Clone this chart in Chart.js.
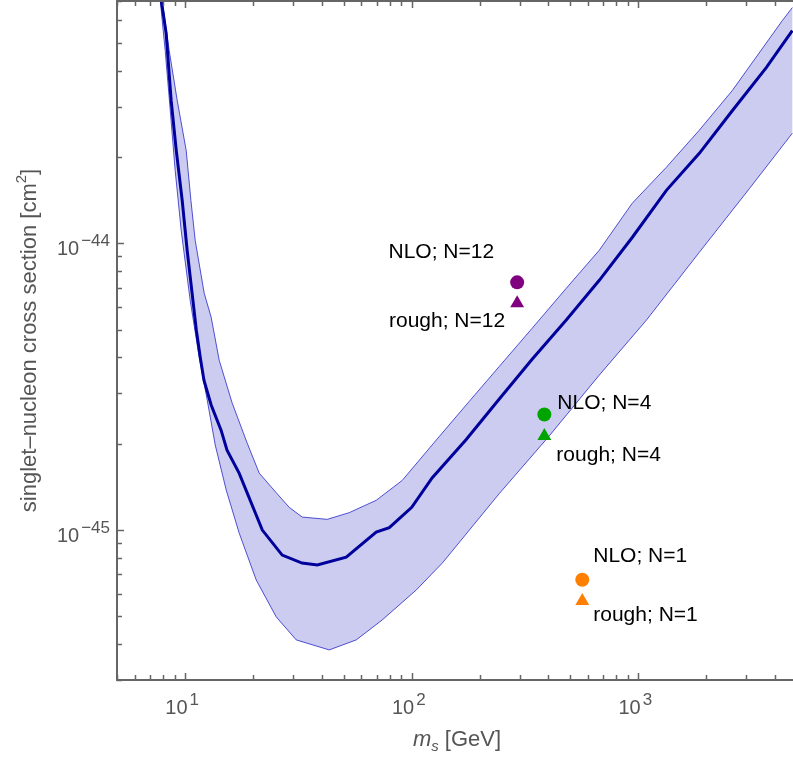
<!DOCTYPE html>
<html>
<head>
<meta charset="utf-8">
<script src="https://cdn.jsdelivr.net/npm/chart.js@4.4.0/dist/chart.umd.min.js"></script>
<style>
html, body { margin: 0; padding: 0; background: #fff; }
#wrap { width: 793px; height: 757px; }
</style>
</head>
<body>
<div id="wrap"><canvas id="myChart" width="793" height="757"></canvas></div>
<script>
// central curve (mass in GeV, cross section in cm^2)
var centerMass = [7.84, 8.24, 8.67, 9.13, 9.70, 10.2, 11.2, 11.65, 12.1, 13.02, 14.4, 15.3, 17.3, 21.9, 26.8, 32.8, 38.3, 51.4, 69.7, 79.6, 100, 123, 174, 243, 340, 481, 673, 942, 1331, 1860, 2600, 3673, 4786];
var centerSigma = [7.03e-44, 5.40e-44, 3.15e-44, 2.11e-44, 1.41e-44, 9.46e-45, 4.98e-45, 4.01e-45, 3.33e-45, 2.73e-45, 2.23e-45, 1.90e-45, 1.58e-45, 1.00e-45, 8.18e-46, 7.67e-46, 7.55e-46, 8.05e-46, 9.84e-46, 1.02e-45, 1.20e-45, 1.52e-45, 2.07e-45, 2.86e-45, 3.94e-45, 5.40e-45, 7.43e-45, 1.05e-44, 1.53e-44, 2.06e-44, 2.90e-44, 4.10e-44, 5.52e-44];

// upper edge of the band
var upperMass = [7.91, 8.50, 9.22, 10.1, 10.6, 11.07, 12.13, 13.02, 14.13, 16.13, 18.78, 21.22, 25.22, 28.79, 32.86, 42.37, 52.98, 69.7, 90.8, 128.3, 179.4, 243.4, 340.4, 481, 672.7, 940.8, 1329, 1859, 2600, 4323, 4786];
var upperSigma = [7.03e-44, 4.70e-44, 3.15e-44, 2.11e-44, 1.41e-44, 1.024e-44, 6.70e-45, 5.52e-45, 3.91e-45, 2.77e-45, 2.01e-45, 1.58e-45, 1.35e-45, 1.20e-45, 1.11e-45, 1.09e-45, 1.15e-45, 1.27e-45, 1.49e-45, 2.06e-45, 2.81e-45, 3.72e-45, 5.06e-45, 6.97e-45, 9.46e-45, 1.38e-44, 1.84e-44, 2.48e-44, 3.41e-44, 5.98e-44, 6.64e-44];

// lower edge of the band
var lowerMass = [7.76, 8.16, 8.59, 9.03, 9.60, 10.52, 11.53, 12.51, 13.57, 15.17, 17.31, 20.58, 25.22, 30.91, 43.23, 56.89, 74.1, 104.7, 136.4, 243.4, 404.6, 672.7, 1085, 1859, 3091, 4786];
var lowerSigma = [7.03e-44, 4.70e-44, 2.91e-44, 1.80e-44, 1.11e-44, 6.33e-45, 4.01e-45, 2.84e-45, 1.98e-45, 1.38e-45, 9.76e-46, 6.70e-46, 4.98e-46, 4.14e-46, 3.82e-46, 4.14e-46, 4.86e-46, 6.18e-46, 7.67e-46, 1.34e-45, 2.13e-45, 3.47e-45, 5.39e-45, 9.30e-45, 1.55e-44, 2.42e-44];

// benchmark points, N = 12, 4, 1
var pointMass = [292, 385, 566];
var nloSigma = [7.31e-45, 2.53e-45, 6.71e-46];
var roughSigma = [6.18e-45, 2.13e-45, 5.66e-46];
var nloLabels = ['NLO; N=12', 'NLO; N=4', 'NLO; N=1'];
var roughLabels = ['rough; N=12', 'rough; N=4', 'rough; N=1'];
var pointColors = ['#800080', '#00a400', '#ff8000'];

var xTickPowers = [1, 2, 3];
var yTickPowers = [-45, -44];

function toPoints(xs, ys) {
    var out = [];
    for (var i = 0; i < xs.length; i++) out.push({x: xs[i], y: ys[i]});
    return out;
}

var bandPoints = toPoints(upperMass, upperSigma).concat(toPoints(lowerMass, lowerSigma).reverse());

var FONT = '"Liberation Sans", Arial, Helvetica, sans-serif';
var GRAY = '#555555';

// label placement relative to the marker: [dx, dy, align]
var nloPlace = [[-23, -30, 'right'], [13, -11, 'left'], [11, -24, 'left']];
var roughPlace = [[-12, 18, 'right'], [12, 19, 'left'], [11, 14, 'left']];

function drawPow(ctx, exp, x, y, align) {
    var base = '10';
    var sup = String(exp).replace('-', '\u2212');
    ctx.font = '20px ' + FONT;
    var wb = ctx.measureText(base).width;
    ctx.font = '17px ' + FONT;
    var ws = ctx.measureText(sup).width;
    var total = wb + 2 + ws;
    var left = align === 'center' ? x - total / 2 : x - total;
    ctx.textAlign = 'left';
    ctx.textBaseline = 'alphabetic';
    ctx.font = '20px ' + FONT;
    ctx.fillText(base, left, y);
    ctx.font = '17px ' + FONT;
    ctx.fillText(sup, left + wb + 2, y - 9);
}

function drawRuns(ctx, runs, cx, y) {
    var total = 0, i;
    for (i = 0; i < runs.length; i++) {
        ctx.font = runs[i].font;
        runs[i].w = ctx.measureText(runs[i].text).width;
        total += runs[i].w;
    }
    var x = cx - total / 2;
    ctx.textAlign = 'left';
    ctx.textBaseline = 'alphabetic';
    for (i = 0; i < runs.length; i++) {
        ctx.font = runs[i].font;
        ctx.fillText(runs[i].text, x, y + (runs[i].dy || 0));
        x += runs[i].w;
    }
}

var framePlugin = {
    id: 'frame',
    afterDatasetsDraw: function(chart) {
        var ctx = chart.ctx;
        var a = chart.chartArea;
        var xs = chart.scales.x, ys = chart.scales.y;
        ctx.save();

        // marker labels
        ctx.fillStyle = '#000';
        ctx.font = '21px ' + FONT;
        ctx.textBaseline = 'middle';
        var nloMeta = chart.getDatasetMeta(4).data;
        var roughMeta = chart.getDatasetMeta(5).data;
        for (var i = 0; i < pointMass.length; i++) {
            ctx.textAlign = nloPlace[i][2];
            ctx.fillText(nloLabels[i], nloMeta[i].x + nloPlace[i][0], nloMeta[i].y + nloPlace[i][1]);
            ctx.textAlign = roughPlace[i][2];
            ctx.fillText(roughLabels[i], roughMeta[i].x + roughPlace[i][0], roughMeta[i].y + roughPlace[i][1]);
        }

        // frame
        ctx.strokeStyle = '#666666';
        ctx.lineWidth = 2;
        ctx.beginPath();
        ctx.moveTo(a.right + 2, a.top);
        ctx.lineTo(a.left, a.top);
        ctx.lineTo(a.left, a.bottom);
        ctx.lineTo(a.right + 2, a.bottom);
        ctx.stroke();

        // ticks
        ctx.lineWidth = 1.5;
        ctx.beginPath();
        for (var d = 0; d <= 3; d++) {
            for (var k = 1; k <= 9; k++) {
                var v = k * Math.pow(10, d);
                if (v < xs.min || v > xs.max) continue;
                var px = Math.round(xs.getPixelForValue(v)) + 0.5;
                var len = k === 1 ? 7 : 5;
                ctx.moveTo(px, a.bottom); ctx.lineTo(px, a.bottom - len);
                ctx.moveTo(px, a.top); ctx.lineTo(px, a.top + len);
            }
        }
        for (var e = -46; e <= -44; e++) {
            for (var m = 1; m <= 9; m++) {
                var yv = m * Math.pow(10, e);
                if (yv < ys.min || yv > ys.max) continue;
                var py = Math.round(ys.getPixelForValue(yv)) + 0.5;
                var ln = m === 1 ? 7 : 5;
                ctx.moveTo(a.left, py); ctx.lineTo(a.left + ln, py);
            }
        }
        ctx.stroke();

        // tick labels
        ctx.fillStyle = GRAY;
        xTickPowers.forEach(function(p) {
            drawPow(ctx, p, xs.getPixelForValue(Math.pow(10, p)) - 3, a.bottom + 34, 'center');
        });
        yTickPowers.forEach(function(p) {
            drawPow(ctx, p, a.left - 7, ys.getPixelForValue(Math.pow(10, p)) + 12, 'right');
        });

        // axis titles
        drawRuns(ctx, [
            {text: 'm', font: 'italic 22px ' + FONT},
            {text: 's', font: 'italic 15px ' + FONT, dy: 5},
            {text: ' [GeV]', font: '22px ' + FONT}
        ], (a.left + a.right) / 2 + 2, 746);

        ctx.translate(36, (a.top + a.bottom) / 2);
        ctx.rotate(-Math.PI / 2);
        drawRuns(ctx, [
            {text: 'singlet\u2013nucleon cross section [cm', font: '22px ' + FONT},
            {text: '2', font: '15px ' + FONT, dy: -10},
            {text: ']', font: '22px ' + FONT}
        ], 0, 0);

        ctx.restore();
    }
};

var element = document.getElementById('myChart').getContext('2d');

var chartData = {
    datasets: [{
        data: bandPoints,
        fill: 'shape',
        backgroundColor: 'rgba(0, 0, 180, 0.2)',
        borderColor: 'rgba(0, 0, 0, 0)',
        borderWidth: 1,
        pointRadius: 0,
        order: 10
    }, {
        data: toPoints(upperMass, upperSigma),
        borderColor: 'rgba(40, 40, 200, 0.8)',
        borderWidth: 1,
        pointRadius: 0,
        fill: false,
        order: 5
    }, {
        data: toPoints(lowerMass, lowerSigma),
        borderColor: 'rgba(40, 40, 200, 0.8)',
        borderWidth: 1,
        pointRadius: 0,
        fill: false,
        order: 5
    }, {
        data: toPoints(centerMass, centerSigma),
        borderColor: '#00009c',
        borderWidth: 3,
        pointRadius: 0,
        fill: false,
        order: 3
    }, {
        data: toPoints(pointMass, nloSigma),
        showLine: false,
        pointStyle: 'circle',
        pointRadius: 7,
        pointBackgroundColor: pointColors,
        pointBorderWidth: 0,
        order: 1
    }, {
        data: toPoints(pointMass, roughSigma),
        showLine: false,
        pointStyle: 'triangle',
        pointRadius: 8,
        pointBackgroundColor: pointColors,
        pointBorderWidth: 0,
        order: 1
    }]
};

var chartOptions = {
    responsive: false,
    animation: false,
    devicePixelRatio: 1,
    layout: { autoPadding: false, padding: { left: 117, right: 0, top: 1, bottom: 77 } },
    plugins: { legend: { display: false }, tooltip: { enabled: false } },
    elements: { line: { tension: 0 } },
    scales: {
        x: { type: 'logarithmic', min: 5, max: 4820, display: false },
        y: { type: 'logarithmic', min: 3e-46, max: 7e-44, display: false }
    }
};

var chart = new Chart(element, {type: 'line', data: chartData, options: chartOptions, plugins: [framePlugin]});
</script>
</body>
</html>
